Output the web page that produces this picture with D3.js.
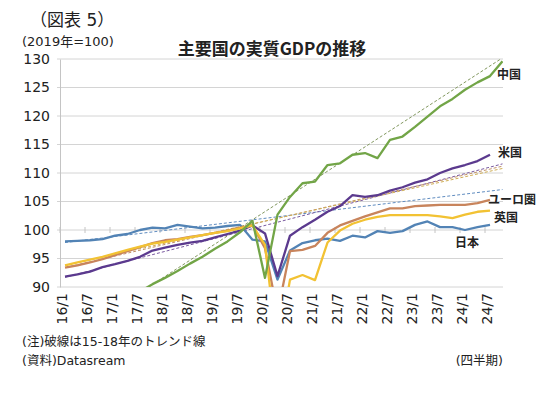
<!DOCTYPE html>
<html>
<head>
<meta charset="utf-8">
<script src="https://cdn.jsdelivr.net/npm/d3@7"></script>
<style>
  body { margin: 0; background: #fff; }
  svg text { font-family: 'DejaVu Sans', 'Noto Sans CJK JP', sans-serif; fill: #222; }
</style>
</head>
<body>
<svg id="chart"></svg>
<script>
const width = 550;
const height = 395;

// quarters 2016Q1 .. 2024Q4
const quarters = ["16Q1","16Q2","16Q3","16Q4","17Q1","17Q2","17Q3","17Q4",
  "18Q1","18Q2","18Q3","18Q4","19Q1","19Q2","19Q3","19Q4",
  "20Q1","20Q2","20Q3","20Q4","21Q1","21Q2","21Q3","21Q4",
  "22Q1","22Q2","22Q3","22Q4","23Q1","23Q2","23Q3","23Q4",
  "24Q1","24Q2","24Q3","24Q4"];

// x tick labels (every 2 quarters)
const tickLabels = ["16/1","16/7","17/1","17/7","18/1","18/7","19/1","19/7","20/1",
  "20/7","21/1","21/7","22/1","22/7","23/1","23/7","24/1","24/7"];

const yTicks = [90, 95, 100, 105, 110, 115, 120, 125, 130];

// real GDP, 2019 = 100
const japan = [98.0, 98.1, 98.2, 98.4, 99.0, 99.3, 100.0, 100.4, 100.3, 100.9, 100.6, 100.3,
  100.4, 100.7, 100.9, 98.3, 98.0, 91.3, 96.4, 97.7, 98.2, 98.5, 98.1, 99.0,
  98.7, 99.8, 99.5, 99.8, 100.9, 101.5, 100.5, 100.5, 100.0, 100.5, 100.9, null];
const us = [91.8, 92.2, 92.7, 93.5, 94.0, 94.6, 95.3, 96.4, 96.9, 97.4, 97.8, 98.1,
  98.7, 99.3, 99.9, 100.8, 99.4, 91.9, 99.0, 100.5, 101.8, 103.2, 104.2, 106.1,
  105.8, 106.1, 106.9, 107.5, 108.3, 108.9, 110.0, 110.8, 111.4, 112.1, 113.2, null];
const euro = [93.4, 93.8, 94.3, 94.9, 95.6, 96.3, 97.0, 97.7, 98.2, 98.4, 98.8, 99.1,
  99.5, 99.9, 100.4, 100.8, 96.8, 85.5, 96.3, 96.5, 97.2, 99.5, 100.8, 101.6,
  102.4, 103.1, 103.8, 103.8, 104.2, 104.3, 104.4, 104.4, 104.4, 104.7, 105.3, null];
const uk = [93.8, 94.3, 94.8, 95.3, 95.9, 96.5, 97.1, 97.6, 97.9, 98.3, 98.7, 99.1,
  99.5, 99.8, 100.3, 100.8, 97.4, 78.5, 91.3, 92.1, 91.2, 97.8, 99.9, 101.1,
  101.8, 102.3, 102.6, 102.6, 102.6, 102.6, 102.4, 102.1, 102.7, 103.2, 103.4, null];
const china = [80.8, 82.2, 83.6, 85.0, 86.4, 87.8, 89.2, 90.5, 91.6, 92.8, 94.1, 95.3,
  96.7, 98.0, 99.6, 101.6, 91.6, 102.7, 105.8, 108.2, 108.5, 111.4, 111.7, 113.2,
  113.5, 112.6, 115.8, 116.4, 118.1, 119.9, 121.7, 123.0, 124.6, 125.9, 127.0, 129.6];

// 15-18 trend lines: value at first and last quarter
const trendStart = { japan: 97.8, us: 91.7, euro: 93.4, uk: 93.8, china: 80.5 };
const trendEnd   = { japan: 107.1, us: 111.6, euro: 111.2, uk: 110.8, china: 130.2 };

const series = [
  { key: "japan", name: "日本", values: japan, color: "#5283b5", trend: "#5f8cc0", lx: 467, ly: 243, anchor: "middle", lcolor: "#3f6f9f" },
  { key: "us", name: "米国", values: us, color: "#5b3a8e", trend: "#7a5aa0", lx: 498, ly: 153, anchor: "start", lcolor: "#5b3a8e" },
  { key: "euro", name: "ユーロ圏", values: euro, color: "#c8845c", trend: "#c0906a", lx: 488, ly: 200, anchor: "start", lcolor: "#c9774a" },
  { key: "uk", name: "英国", values: uk, color: "#f2c233", trend: "#cfae55", lx: 494, ly: 218, anchor: "start", lcolor: "#e2b526" },
  { key: "china", name: "中国", values: china, color: "#72a547", trend: "#82985f", lx: 497, ly: 75, anchor: "start", lcolor: "#6a9e40" }
];

const plot = { left: 60, right: 503, top: 59, bottom: 287 };

const x = d3.scaleLinear().domain([0, quarters.length - 1]).range([65, 502.5]);
const y = d3.scaleLinear().domain([90, 130]).range([plot.bottom, plot.top]);

const svg = d3.select("svg#chart").attr("width", width).attr("height", height);

svg.append("defs").append("clipPath").attr("id", "plotclip")
  .append("rect")
  .attr("x", plot.left).attr("y", plot.top)
  .attr("width", plot.right - plot.left).attr("height", plot.bottom - plot.top);

// gridlines
svg.append("g")
  .selectAll("line")
  .data(yTicks)
  .enter().append("line")
  .attr("x1", plot.left - 3).attr("x2", plot.right)
  .attr("y1", d => y(d)).attr("y2", d => y(d))
  .attr("stroke", "#d4d4d4").attr("stroke-width", 1);

// y axis
const yAxis = d3.axisLeft(y).tickValues(yTicks).tickSize(0).tickPadding(10);
const yg = svg.append("g").attr("transform", `translate(${plot.left},0)`).call(yAxis);
yg.select(".domain").attr("stroke", "#c4c4c4");
yg.selectAll("text")
  .style("font-family", "'DejaVu Sans', sans-serif")
  .style("font-size", "14px").attr("fill", "#222");

// category axis crosses at 100, labels sit below the plot
const tickIdx = tickLabels.map((d, i) => i * 2);
svg.append("g")
  .selectAll("line")
  .data(tickIdx)
  .enter().append("line")
  .attr("x1", d => x(d - 0.4)).attr("x2", d => x(d - 0.4))
  .attr("y1", y(100) - 3).attr("y2", y(100) + 3)
  .attr("stroke", "#c4c4c4");

svg.append("g")
  .selectAll("text")
  .data(tickLabels)
  .enter().append("text")
  .attr("transform", (d, i) => `translate(${x(i * 2)},${plot.bottom + 6}) rotate(-90)`)
  .attr("text-anchor", "end")
  .attr("dy", "0.12em")
  .style("font-size", "14px")
  .text(d => d);

// trend lines + series
const g = svg.append("g").attr("clip-path", "url(#plotclip)");

series.forEach(s => {
  g.append("line")
    .attr("x1", x(0)).attr("x2", x(quarters.length - 1))
    .attr("y1", y(trendStart[s.key])).attr("y2", y(trendEnd[s.key]))
    .attr("stroke", s.trend).attr("stroke-width", 1)
    .attr("stroke-dasharray", "3,2");
});

const line = d3.line()
  .defined(d => d != null)
  .x((d, i) => x(i))
  .y(d => y(d));

series.forEach(s => {
  g.append("path")
    .datum(s.values)
    .attr("fill", "none")
    .attr("stroke", s.color)
    .attr("stroke-width", 2.3)
    .attr("stroke-linejoin", "round")
    .attr("d", line);
});

// series labels
svg.append("g")
  .selectAll("text")
  .data(series)
  .enter().append("text")
  .attr("x", d => d.lx).attr("y", d => d.ly)
  .attr("dy", "0.35em")
  .attr("text-anchor", d => d.anchor)
  .style("font-size", "12px").style("font-weight", "bold")
  .attr("fill", d => d.lcolor)
  .text(d => d.name);

// titles and notes
svg.append("text").attr("x", 30).attr("y", 26)
  .style("font-size", "17px").attr("fill", "#444").text("（図表 5）");
svg.append("text").attr("x", 22).attr("y", 46)
  .style("font-size", "13px").text("(2019年=100)");
svg.append("text").attr("x", 272).attr("y", 55)
  .attr("text-anchor", "middle")
  .style("font-family", "'Noto Sans CJK JP', sans-serif")
  .style("font-size", "17px").style("font-weight", "bold").text("主要国の実質GDPの推移");
svg.append("text").attr("x", 22).attr("y", 346)
  .style("font-size", "12.5px").text("(注)破線は15-18年のトレンド線");
svg.append("text").attr("x", 22).attr("y", 365)
  .style("font-size", "12.5px").text("(資料)Datasream");
svg.append("text").attr("x", 503).attr("y", 365)
  .attr("text-anchor", "end")
  .style("font-size", "12.5px").text("(四半期)");
</script>
</body>
</html>
